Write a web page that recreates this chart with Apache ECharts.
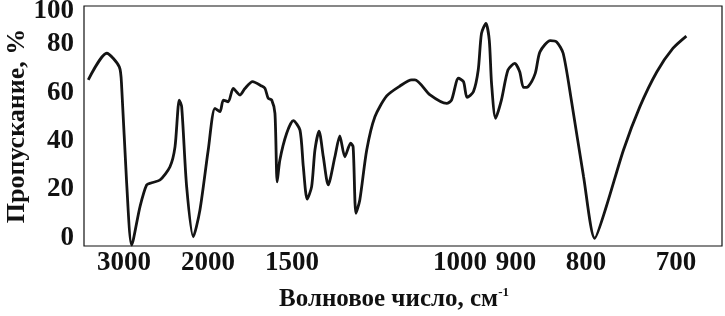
<!DOCTYPE html>
<html>
<head>
<meta charset="utf-8">
<script src="https://cdn.jsdelivr.net/npm/echarts@6/dist/echarts.min.js"></script>
<style>
html,body{margin:0;padding:0;background:#fff;}
#chart{width:725px;height:316px;}
</style>
</head>
<body>
<div id="chart"></div>
<script>
// Wavenumbers (cm-1) and transmittance (%)
const wavenumbers = [3810,3344,3086,3042,2953,2869,2739,2643,2575,2471,2355,2301,2257,2233,2185,2124,2066,1998,1946,1909,1885,1851,1818,1775,1744,1699,1649,1631,1614,1596,1580,1569,1556,1524,1494,1465,1451,1435,1417,1404,1388,1372,1354,1330,1313,1296,1277,1269,1260,1248,1227,1203,1170,1135,1106,1098,1063,1027,1017,1003,993,986,974,965,959,951,945,941,934,924,913,902,894,888,881,870,863,848,839,830,819,803,789,775,755,737,719,703,690];
const transmittance = [65.2,76.2,70.6,62.4,22.7,-2.9,12.9,21.9,22.8,23.9,29.4,37.6,56.9,54.1,21.2,0.5,11.5,36.3,53.5,52.1,56.9,56.2,61.7,59.0,61.7,64.5,62.7,61.7,57.6,56.9,51.4,23.2,32.2,43.2,48.4,44.5,29.4,16.0,21.2,36.3,44.1,33.5,21.9,33.5,42.1,33.5,39.1,37.6,10.2,15.7,36.3,50.0,58.6,62.7,65.2,65.2,59.0,55.5,56.9,65.9,64.5,58.0,60.3,69.3,84.4,88.5,81.6,63.8,49.4,56.9,69.3,72.0,68.6,62.1,62.4,67.9,76.8,81.4,80.9,76.2,56.9,25.3,-0.1,12.9,36.3,54.1,68.6,78.2,83.3];
const xTickWavenumbers = [3000,2000,1500,1000,900,800,700];
const yTickValues = [0,20,40,60,80,100];
const yTitle = 'Пропускание, %';
const xTitle = 'Волновое число, см';

// x axis is linear in wavelength (µm), labelled in wavenumbers
const toLambda = w => 10000 / w;
const yTop = 95.7;
const yLabelTop = 93.5;

const chart = echarts.init(document.getElementById('chart'));
const font = '"Liberation Serif","Times New Roman",serif';
chart.setOption({
  animation: false,
  grid: {left: 84, top: 6, right: 3, bottom: 70, containLabel: false, outerBoundsMode: 'none',
         show: true, borderColor: '#111', borderWidth: 1.2, backgroundColor: 'transparent'},
  xAxis: {
    type: 'value', min: 2.54, max: 15.2,
    axisLine: {show: false}, axisTick: {show: false}, splitLine: {show: false},
    axisLabel: {
      customValues: xTickWavenumbers.map(toLambda),
      formatter: v => String(Math.round(10000 / v)),
      fontFamily: font, fontWeight: 'bold', fontSize: 27, color: '#111', margin: 4
    },
    name: xTitle + '{sup|-1}',
    nameLocation: 'middle', nameGap: 40, nameMoveOverlap: false,
    nameTextStyle: {
      fontFamily: font, fontWeight: 'bold', fontSize: 25, color: '#111', padding: [0, 18, 0, 0],
      rich: {sup: {fontFamily: font, fontWeight: 'bold', fontSize: 13, color: '#111', verticalAlign: 'top', padding: [0, 0, 14, 0]}}
    }
  },
  yAxis: {
    type: 'value', min: -3.3, max: yTop,
    axisLine: {show: false}, axisTick: {show: false}, splitLine: {show: false},
    axisLabel: {
      customValues: yTickValues.map(v => Math.min(v, yLabelTop)),
      formatter: v => v > 90 ? String(yTickValues[yTickValues.length - 1]) : String(Math.round(v)),
      fontFamily: font, fontWeight: 'bold', fontSize: 27, color: '#111', margin: 10
    },
    name: yTitle, nameLocation: 'middle', nameGap: 54, nameRotate: 90, nameMoveOverlap: false,
    nameTextStyle: {fontFamily: font, fontWeight: 'bold', fontSize: 26, color: '#111'}
  },
  series: [{
    type: 'line',
    data: wavenumbers.map((w, i) => [toLambda(w), transmittance[i]]),
    smooth: 0.25, showSymbol: false, clip: false,
    lineStyle: {color: '#141414', width: 2.8}
  }]
});
</script>
</body>
</html>
